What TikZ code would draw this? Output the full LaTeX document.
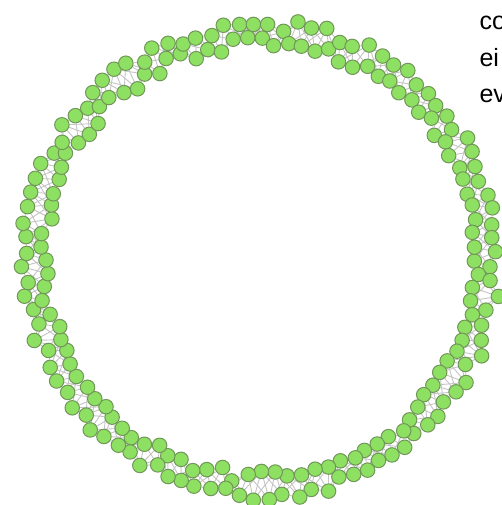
\documentclass[tikz,border=0pt]{standalone}
\usepackage{fontspec}
\setmainfont{Liberation Sans}
\usetikzlibrary{backgrounds}

\definecolor{nodegreen}{RGB}{142,224,98}
\definecolor{nodeedge}{RGB}{112,150,88}
\definecolor{linkgray}{RGB}{196,196,196}

\begin{document}
\begin{tikzpicture}[x=1pt,y=-1pt,
  vertex/.style={circle,fill=nodegreen,draw=nodeedge,line width=1pt,minimum size=14.5pt,inner sep=0pt},
  link/.style={draw=linkgray,line width=0.9pt},
  words/.style={anchor=base west,font=\fontsize{25}{30}\selectfont}]
  \useasboundingbox (0,0) rectangle (501,505);
  \pgfmathsetseed{17}
  % ring of 200 nodes, zigzag between two lanes
  \foreach \i in {0,...,199}{
    \pgfmathsetmacro{\ang}{\i*1.8+0.35*rand}
    \pgfmathsetmacro{\rad}{226+9*(2*mod(\i,2)-1)+6*rand}
    \node[vertex] (n\i) at ({261+\rad*cos(\ang)},{260+\rad*sin(\ang)}) {};
  }
  % links to the next three neighbours
  \begin{scope}[on background layer]
    \foreach \i in {0,...,199}{
      \foreach \k in {1,2,3}{
        \pgfmathtruncatemacro{\j}{mod(\i+\k,200)}
        \draw[link] (n\i) -- (n\j);
      }
    }
  \end{scope}
  \node[words] (lineco) at (476,30) {co};
  \node[words] (lineei) at (476,66.5) {ei};
  \node[words] (lineev) at (476,103) {ev};
\end{tikzpicture}
\end{document}
